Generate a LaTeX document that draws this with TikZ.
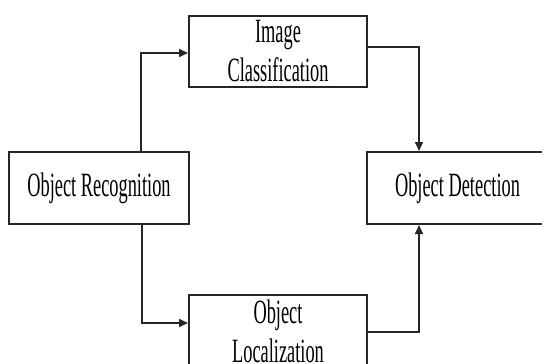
\documentclass[tikz,border=0pt]{standalone}
\usepackage{fontspec}
\setmainfont{Liberation Serif}[FakeStretch=0.54]
\usetikzlibrary{arrows.meta}

\tikzset{
    stage/.style={draw=black!85, line width=2pt, inner sep=0pt, align=center,
        minimum height=72pt, font=\fontsize{34}{39}\selectfont},
    flow/.style={draw=black!85, line width=2pt,
        -{Triangle[length=9pt,width=8pt]}}
}

\begin{document}
\begin{tikzpicture}[x=1pt,y=-1pt]

    \useasboundingbox (0,0) rectangle (542,364);

    % the four stages
    \node[stage, minimum width=180pt] (rec) at (99,188) {Object Recognition};
    \node[stage, minimum width=178pt, minimum height=71pt] (cls) at (278,51.5) {Image\\Classification};
    \node[stage, minimum width=178pt] (loc) at (278,331) {Object\\Localization};
    \node[stage, minimum width=181pt] (det) at (457.5,188) {Object Detection};

    % bends of the connectors
    \coordinate (up) at (141,53);
    \coordinate (down) at (142,323);
    \coordinate (in1) at (419,47);
    \coordinate (in2) at (419,332);

    % connectors
    \draw[flow] (rec.north -| up) |- (cls.west |- up);
    \draw[flow] (rec.south -| down) |- (loc.west |- down);
    \draw[flow] (cls.east |- in1) -| (det.north -| in1);
    \draw[flow] (loc.east |- in2) -| (det.south -| in2);

\end{tikzpicture}
\end{document}
